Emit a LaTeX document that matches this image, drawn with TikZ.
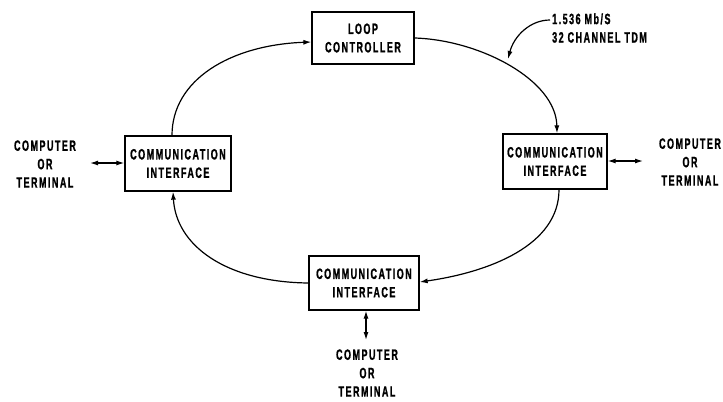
\documentclass[tikz,border=0pt]{standalone}
\usepackage{fontspec}
\newfontfamily\lab[FakeStretch=0.6,LetterSpace=10,FakeBold=1.2]{Liberation Sans Bold}
\usetikzlibrary{arrows.meta,calc}
\begin{document}
\begin{tikzpicture}[x=1bp,y=-1bp,
  every node/.style={font=\lab\fontsize{15}{18.5}\selectfont, align=center, inner sep=0pt},
  blk/.style={draw, line width=1.3bp, minimum width=#1},
  blk/.default=104bp,
  link/.style={line width=1.2bp, -{Latex[length=8bp,width=5bp]}},
  dbl/.style={line width=1.2bp, {Latex[length=8bp,width=5bp]}-{Latex[length=8bp,width=5bp]}}]
\useasboundingbox (0,0) rectangle (723,401);
\node[blk=102bp, minimum height=52bp] (lc) at (363,38) {LOOP\\CONTROLLER};
\node[blk=106bp, minimum height=55bp] (cil) at (178,163.5) {COMMUNICATION\\INTERFACE};
\node[blk=104bp, minimum height=55bp] (cir) at (555,161.5) {COMMUNICATION\\INTERFACE};
\node[blk=110bp, minimum height=54bp] (cib) at (364,283) {COMMUNICATION\\INTERFACE};
\node (ctl) at (45,164) {COMPUTER\\OR\\TERMINAL};
\node (ctr) at (690,162) {COMPUTER\\OR\\TERMINAL};
\node (ctb) at (367,373) {COMPUTER\\OR\\TERMINAL};
\node[align=left, anchor=west] (rate) at (552,28) {1.536 Mb/S\\32 CHANNEL TDM};
% ring
\draw[link] ($(cil.north)+(-6,0)$) .. controls (172,80) and (230,45) .. ($(lc.west)+(0,4)$);
\draw[link] (lc.east) .. controls (480,40) and (556,80) .. ($(cir.north)+(2,0)$);
\draw[link] ($(cir.south)+(4,0)$) .. controls (559,245) and (490,272) .. ($(cib.east)+(0,-1)$);
\draw[link] (cib.west) .. controls (225,282) and (176,245) .. ($(cil.south)+(-5,0)$);
% label pointer
\coordinate (tap) at (508,59);
\draw[link] ($(rate.west)+(-2,-8)$) .. controls (530,20) and (514,36) .. (tap);
% terminals
\coordinate (el) at (90,163);
\coordinate (er) at (643,161);
\coordinate (eb) at (366,340);
\draw[dbl] (el) -- (cil.west |- el);
\draw[dbl] (cir.east |- er) -- (er);
\draw[dbl] (cib.south -| eb) -- (eb);
\end{tikzpicture}
\end{document}
